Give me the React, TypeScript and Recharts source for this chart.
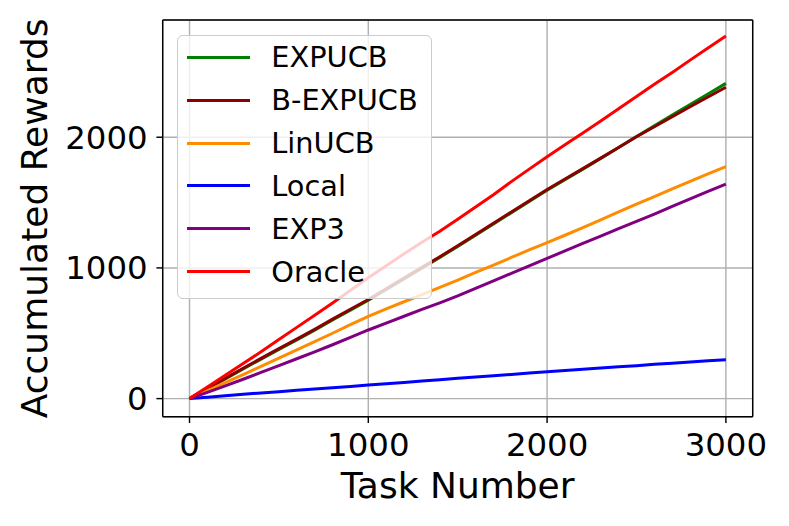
import React from 'react';
import { LineChart, Line, XAxis, YAxis, CartesianGrid, Legend, ReferenceLine } from 'recharts';

const tasks = [0, 100, 200, 300, 400, 500, 600, 700, 800, 900, 1000, 1100, 1200, 1300, 1400, 1500, 1600, 1700, 1800, 1900, 2000, 2100, 2200, 2300, 2400, 2500, 2600, 2700, 2800, 2900, 3000];

const expucb = [0, 76, 151, 227, 302, 376, 449, 524, 601, 677, 752, 834, 916, 998, 1080, 1164, 1250, 1336, 1422, 1508, 1594, 1675, 1756, 1838, 1921, 2005, 2087, 2169, 2250, 2331, 2412];
const bexpucb = [0, 78, 155, 232, 308, 382, 455, 530, 608, 684, 758, 840, 922, 1004, 1086, 1170, 1256, 1342, 1428, 1514, 1600, 1680, 1760, 1840, 1922, 2004, 2080, 2157, 2233, 2308, 2382];
const linucb = [0, 61, 123, 184, 247, 310, 372, 436, 500, 566, 630, 686, 741, 796, 851, 907, 966, 1022, 1080, 1138, 1193, 1250, 1308, 1368, 1428, 1488, 1546, 1604, 1662, 1719, 1775];
const local = [0, 11, 22, 33, 43, 53, 63, 73, 83, 93, 104, 114, 124, 134, 144, 155, 165, 175, 185, 195, 206, 215, 224, 234, 243, 252, 262, 271, 280, 289, 298];
const exp3 = [0, 48, 98, 148, 200, 252, 305, 358, 412, 468, 525, 578, 630, 682, 733, 786, 843, 900, 958, 1015, 1073, 1130, 1187, 1243, 1300, 1356, 1412, 1470, 1528, 1585, 1642];
const oracle = [0, 88, 178, 268, 358, 452, 545, 637, 731, 828, 925, 1016, 1108, 1197, 1280, 1372, 1466, 1560, 1660, 1756, 1851, 1942, 2032, 2125, 2218, 2311, 2405, 2496, 2590, 2683, 2775];

const xTicks = [0, 1000, 2000, 3000];
const yTicks = [0, 1000, 2000];

const seriesNames = ['EXPUCB', 'B-EXPUCB', 'LinUCB', 'Local', 'EXP3', 'Oracle'];
const seriesKeys = ['expucb', 'bexpucb', 'linucb', 'local', 'exp3', 'oracle'];
const seriesColors = ['#008000', '#8b0000', '#ff8c00', '#0000ff', '#800080', '#ff0000'];
const seriesValues = [expucb, bexpucb, linucb, local, exp3, oracle];

const data = tasks.map((t, i) => {
  const row: Record<string, number> = { x: t };
  seriesKeys.forEach((k, j) => {
    row[k] = seriesValues[j][i];
  });
  return row;
});

const W = 789;
const H = 526;
const PLOT_LEFT = 162.7;
const PLOT_RIGHT = 752.7;
const PLOT_TOP = 20;
const PLOT_BOTTOM = 416.7;
const Y_AXIS_W = 150;
const X_AXIS_H = 100;
const FONT = '"DejaVu Sans", Verdana, sans-serif';
const X_DOMAIN: [number, number] = [-150, 3150];
const Y_DOMAIN: [number, number] = [-138.5, 2897];

const renderLegend = () => (
  <div
    style={{
      width: 254.4,
      height: 264.6,
      boxSizing: 'border-box',
      background: 'rgba(255,255,255,0.8)',
      border: '1.44px solid #cccccc',
      borderRadius: 6,
      position: 'relative',
      fontFamily: FONT,
      fontSize: 28.8,
      color: '#000',
    }}
  >
    {seriesNames.map((name, i) => (
      <div
        key={name}
        style={{
          position: 'absolute',
          left: 8.6,
          top: 21.6 + i * 42.9 - 20,
          height: 40,
          display: 'flex',
          alignItems: 'center',
          whiteSpace: 'nowrap',
        }}
      >
        <div style={{ width: 62.7, height: 3, background: seriesColors[i] }} />
        <span style={{ marginLeft: 21.7, lineHeight: 'normal' }}>{name}</span>
      </div>
    ))}
  </div>
);

const XLabel = () => (
  <text
    x={(PLOT_LEFT + PLOT_RIGHT) / 2}
    y={498}
    textAnchor="middle"
    fontFamily={FONT}
    fontSize={36}
    fill="#000"
  >
    Task Number
  </text>
);

const YLabel = () => {
  const cx = 47;
  const cy = (PLOT_TOP + PLOT_BOTTOM) / 2;
  return (
    <text
      x={cx}
      y={cy}
      textAnchor="middle"
      transform={`rotate(-90 ${cx} ${cy})`}
      fontFamily={FONT}
      fontSize={36}
      fill="#000"
    >
      Accumulated Rewards
    </text>
  );
};

export default function App() {
  return (
    <div style={{ position: 'absolute', left: 0, top: 0, width: W, height: H, background: '#fff' }}>
      <LineChart
        width={W}
        height={H}
        data={data}
        margin={{
          top: PLOT_TOP,
          right: W - PLOT_RIGHT,
          left: PLOT_LEFT - Y_AXIS_W,
          bottom: H - PLOT_BOTTOM - X_AXIS_H,
        }}
      >
        <CartesianGrid stroke="#b0b0b0" strokeWidth={1.44} />
        <XAxis
          dataKey="x"
          type="number"
          domain={X_DOMAIN}
          ticks={xTicks}
          allowDataOverflow
          height={X_AXIS_H}
          tickSize={6.3}
          tickMargin={9.7}
          tick={{ fontSize: 32.4, fill: '#000', fontFamily: FONT }}
          tickLine={{ stroke: '#000', strokeWidth: 1.44 }}
          axisLine={{ stroke: '#000', strokeWidth: 1.44 }}
          label={<XLabel />}
        />
        <YAxis
          type="number"
          domain={Y_DOMAIN}
          ticks={yTicks}
          allowDataOverflow
          width={Y_AXIS_W}
          tickSize={6.3}
          tickMargin={8.7}
          tick={{ fontSize: 32.4, fill: '#000', fontFamily: FONT }}
          tickLine={{ stroke: '#000', strokeWidth: 1.44 }}
          axisLine={{ stroke: '#000', strokeWidth: 1.44 }}
          label={<YLabel />}
        />
        <ReferenceLine y={Y_DOMAIN[1]} stroke="#000" strokeWidth={1.44} />
        <ReferenceLine x={X_DOMAIN[1]} stroke="#000" strokeWidth={1.44} />
        {seriesKeys.map((k, i) => (
          <Line
            key={k}
            type="linear"
            dataKey={k}
            name={seriesNames[i]}
            stroke={seriesColors[i]}
            strokeWidth={3}
            dot={false}
            activeDot={false}
            isAnimationActive={false}
          />
        ))}
        <Legend
          layout="vertical"
          align="center"
          verticalAlign="middle"
          content={renderLegend}
          wrapperStyle={{ position: 'absolute', left: 177.3, top: 34.7, width: 254.4, height: 264.6 }}
        />
      </LineChart>
    </div>
  );
}
